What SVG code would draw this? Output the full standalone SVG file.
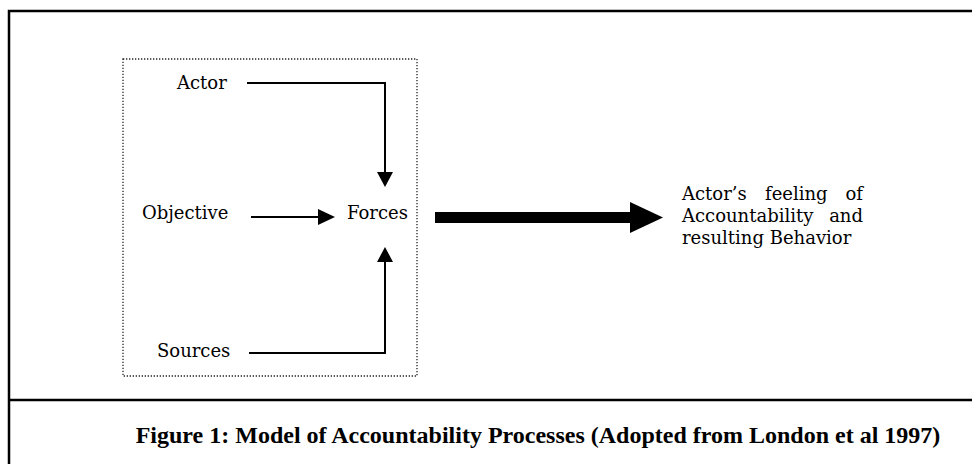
<svg xmlns="http://www.w3.org/2000/svg" width="972" height="464" viewBox="0 0 972 464">
<style>
.lbl{font-family:"DejaVu Serif",Georgia,serif;font-size:18px;fill:#000}
.cap{font-family:"Liberation Serif","Times New Roman",serif;font-weight:bold;font-size:24px;fill:#000}
.frame{fill:none;stroke:#000;stroke-width:2.5}
.conn{fill:none;stroke:#000;stroke-width:2}
.head{fill:#000}
</style>
<rect width="972" height="464" fill="#fff"/>
<g id="frame">
<path class="frame" d="M972,11 H9 V464 M9,400 H972"/>
</g>
<g id="group-box">
<rect x="123" y="59" width="294" height="317" fill="none" stroke="#222" stroke-width="1.3" stroke-dasharray="1.3 1.7"/>
</g>
<g id="node-actor"><text class="lbl" x="177" y="89">Actor</text></g>
<g id="node-objective"><text class="lbl" x="142" y="219">Objective</text></g>
<g id="node-sources"><text class="lbl" x="157" y="357">Sources</text></g>
<g id="node-forces"><text class="lbl" x="347" y="219">Forces</text></g>
<g id="node-result">
<text class="lbl" y="200"><tspan x="682">Actor’s</tspan><tspan x="765">feeling</tspan><tspan x="863" text-anchor="end">of</tspan></text>
<text class="lbl" y="222"><tspan x="682">Accountability</tspan><tspan x="863" text-anchor="end">and</tspan></text>
<text class="lbl" x="682" y="244">resulting Behavior</text>
</g>
<g id="connectors">
<path class="conn" d="M247,83 H385 V174"/>
<polygon class="head" points="377,172 393,172 385,187"/>
<path class="conn" d="M251,217 H320"/>
<polygon class="head" points="318,209 335,217 318,225"/>
<path class="conn" d="M249,353 H385 V260"/>
<polygon class="head" points="377,262 393,262 385,247"/>
<rect class="head" x="435" y="212" width="197" height="11"/>
<polygon class="head" points="630,202 663,217.5 630,233"/>
</g>
<g id="caption">
<text class="cap" x="538" y="443" text-anchor="middle">Figure 1: Model of Accountability Processes (Adopted from London et al 1997)</text>
</g>
</svg>
